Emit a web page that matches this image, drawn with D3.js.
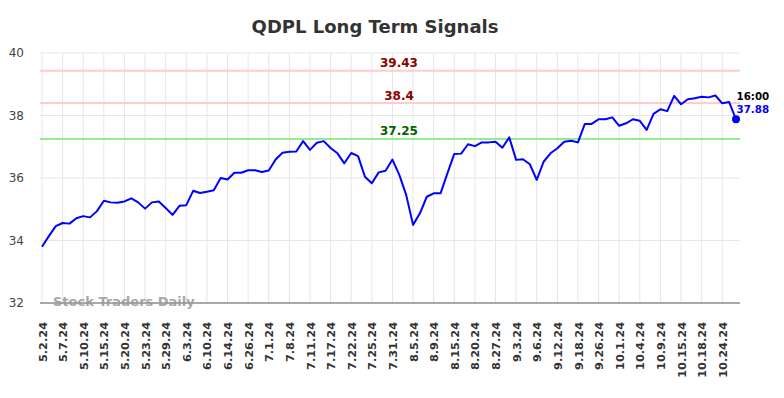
<!DOCTYPE html>
<html>
<head>
<meta charset="utf-8">
<title>QDPL Long Term Signals</title>
<script src="https://d3js.org/d3.v7.min.js"></script>
<style>
  body { margin: 0; background: #fff; }
  svg { display: block; font-family: "DejaVu Sans", sans-serif; }
</style>
</head>
<body>
<svg width="784" height="398"></svg>
<script>
// closing prices, one per trading day
const prices = [
  33.80, 34.14, 34.46, 34.56, 34.54, 34.71, 34.78, 34.74, 34.94, 35.27,
  35.22, 35.21, 35.25, 35.35, 35.22, 35.02, 35.22, 35.25, 35.04, 34.82,
  35.11, 35.13, 35.59, 35.52, 35.56, 35.61, 36.00, 35.95, 36.17, 36.17,
  36.25, 36.25, 36.19, 36.24, 36.59, 36.81, 36.84, 36.85, 37.18, 36.90,
  37.13, 37.18, 36.96, 36.79, 36.47, 36.80, 36.70, 36.04, 35.83, 36.18,
  36.23, 36.59, 36.10, 35.46, 34.50, 34.87, 35.40, 35.51, 35.51, 36.15,
  36.77, 36.78, 37.08, 37.02, 37.14, 37.14, 37.16, 36.97, 37.30, 36.58,
  36.60, 36.44, 35.94, 36.52, 36.79, 36.95, 37.16, 37.19, 37.14, 37.73,
  37.73, 37.88, 37.88, 37.94, 37.67, 37.75, 37.88, 37.83, 37.54, 38.05,
  38.20, 38.14, 38.63, 38.36, 38.52, 38.55, 38.60, 38.58, 38.64, 38.39,
  38.43, 37.88
];

// date label shown under every third point
const tickLabels = [
  "5.2.24", "5.7.24", "5.10.24", "5.15.24", "5.20.24", "5.23.24", "5.29.24",
  "6.3.24", "6.10.24", "6.14.24", "6.26.24", "7.1.24", "7.8.24", "7.11.24",
  "7.17.24", "7.22.24", "7.25.24", "7.31.24", "8.5.24", "8.9.24", "8.15.24",
  "8.20.24", "8.27.24", "9.3.24", "9.6.24", "9.12.24", "9.18.24", "9.26.24",
  "10.1.24", "10.4.24", "10.9.24", "10.15.24", "10.18.24", "10.24.24"
];
const tickEvery = 3;

const yTicks = [32, 34, 36, 38, 40];

// signal levels
const signals = [
  {value: 39.43, kind: "resistance"},
  {value: 38.4, kind: "resistance"},
  {value: 37.25, kind: "support"}
];

const lastTime = "16:00";

const svg = d3.select("svg");
const plotL = 40, plotR = 740, plotT = 53, plotB = 303;

const x = d3.scaleLinear().domain([0, prices.length - 1]).range([42, 736]);
const y = d3.scaleLinear().domain([32, 40]).range([plotB, plotT]);

// title
svg.append("text")
  .attr("x", 375).attr("y", 33)
  .attr("text-anchor", "middle")
  .attr("font-size", 18).attr("font-weight", "bold")
  .attr("fill", "#333")
  .text("QDPL Long Term Signals");

// horizontal grid
svg.append("g")
  .selectAll("line")
  .data(yTicks.slice(1))
  .join("line")
  .attr("x1", plotL).attr("x2", plotR)
  .attr("y1", d => y(d)).attr("y2", d => y(d))
  .attr("stroke", "#e6e6e6");

// vertical grid at every labelled point
const tickIdx = tickLabels.map((d, i) => i * tickEvery);
svg.append("g")
  .selectAll("line")
  .data(tickIdx)
  .join("line")
  .attr("x1", d => x(d)).attr("x2", d => x(d))
  .attr("y1", plotT).attr("y2", plotB)
  .attr("stroke", "#e6e6e6");

// y axis labels
const yAxis = svg.append("g")
  .attr("transform", `translate(${plotL},0)`)
  .call(d3.axisLeft(y).tickValues(yTicks).tickSize(0).tickPadding(16));
yAxis.select(".domain").remove();
yAxis.selectAll("text")
  .attr("font-family", "DejaVu Sans, sans-serif")
  .attr("font-size", 12)
  .attr("fill", "#444");

// x axis
const xAxis = svg.append("g")
  .attr("transform", `translate(0,${plotB})`)
  .call(d3.axisBottom(x)
    .tickValues(tickIdx)
    .tickFormat((d, i) => tickLabels[i])
    .tickSize(0));
xAxis.select(".domain").remove();
xAxis.selectAll("text")
  .attr("font-family", "DejaVu Sans, sans-serif")
  .attr("font-size", 11.3)
  .attr("font-weight", "bold")
  .attr("fill", "#333")
  .attr("text-anchor", "end")
  .attr("transform", "rotate(-90)")
  .attr("x", -19)
  .attr("y", 0)
  .attr("dy", "0.36em");

svg.append("line")
  .attr("x1", plotL).attr("x2", plotR)
  .attr("y1", plotB).attr("y2", plotB)
  .attr("stroke", "#555").attr("stroke-width", 1.2);

// signal lines
svg.append("g")
  .selectAll("line")
  .data(signals)
  .join("line")
  .attr("x1", plotL).attr("x2", plotR)
  .attr("y1", d => y(d.value)).attr("y2", d => y(d.value))
  .attr("stroke", d => d.kind === "support" ? "#90ee90" : "#ffcccc")
  .attr("stroke-width", 2);

svg.append("g")
  .selectAll("text")
  .data(signals)
  .join("text")
  .attr("x", 399)
  .attr("y", d => y(d.value) - 3.5)
  .attr("text-anchor", "middle")
  .attr("font-size", 12).attr("font-weight", "bold")
  .attr("fill", d => d.kind === "support" ? "#006400" : "#8b0000")
  .text(d => d.value);

// watermark
svg.append("text")
  .attr("x", 53).attr("y", 306)
  .attr("font-size", 13).attr("font-weight", "bold")
  .attr("fill", "#999").attr("opacity", 0.85)
  .text("Stock Traders Daily");

// price line
svg.append("path")
  .datum(prices)
  .attr("fill", "none")
  .attr("stroke", "#0000ff")
  .attr("stroke-width", 2)
  .attr("stroke-linejoin", "round")
  .attr("d", d3.line().x((d, i) => x(i)).y(d => y(d)));

const lastI = prices.length - 1;
svg.append("circle")
  .attr("cx", x(lastI)).attr("cy", y(prices[lastI]))
  .attr("r", 4)
  .attr("fill", "#0000ff");

svg.append("text")
  .attr("x", x(lastI) + 0.5).attr("y", 100)
  .attr("font-size", 10.3).attr("font-weight", "bold")
  .attr("fill", "#000")
  .text(lastTime);

svg.append("text")
  .attr("x", x(lastI) + 0.5).attr("y", 113)
  .attr("font-size", 10.3).attr("font-weight", "bold")
  .attr("fill", "#0000ff")
  .text(prices[lastI].toFixed(2));
</script>
</body>
</html>
